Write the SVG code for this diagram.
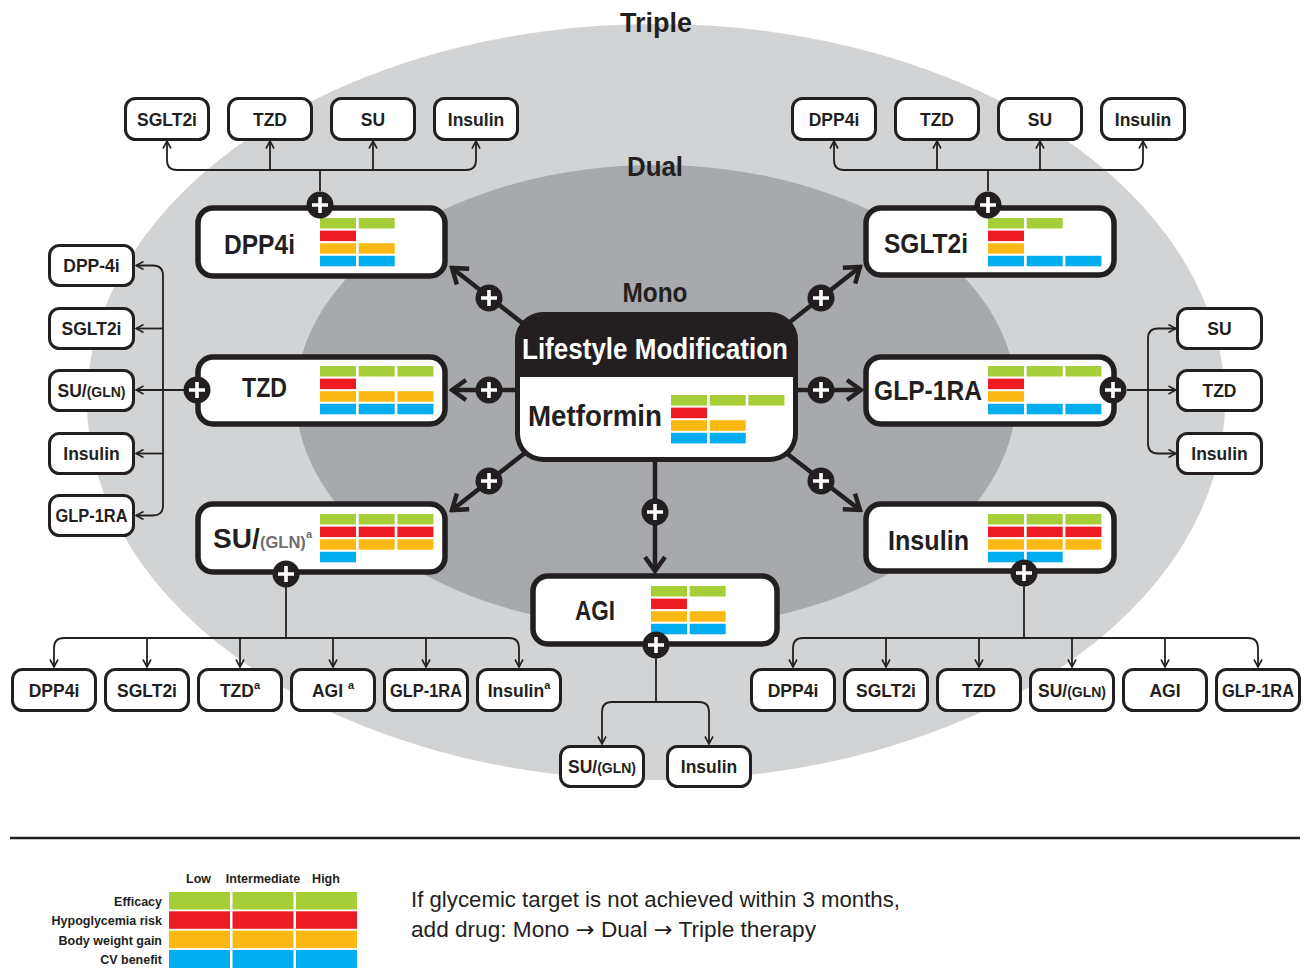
<svg xmlns="http://www.w3.org/2000/svg" width="1307" height="968" viewBox="0 0 1307 968">
<defs>
<style>
text{font-family:"Liberation Sans",Arial,sans-serif;font-weight:bold;fill:#231f20}
.big{font-size:28px}
.sm{font-size:17.5px;text-anchor:middle}
.sb{fill:#fff;stroke:#231f20;stroke-width:3}
.nb{fill:#fff;stroke:#231f20;stroke-width:5.5}
.G{fill:#a6ce39}.R{fill:#ed1c24}.O{fill:#fdb913}.B{fill:#00aeef}
.ln{fill:none;stroke:#231f20;stroke-width:1.8;marker-end:url(#sa)}
.bus{fill:none;stroke:#231f20;stroke-width:1.8}
.ar{fill:none;stroke:#231f20;stroke-width:4.5;marker-end:url(#ba)}
.lg{font-size:12.5px}
.sup{font-size:11px}
.ring{font-size:28px;text-anchor:middle}
.arw{font-family:"DejaVu Sans",sans-serif;font-weight:normal}
</style>
<marker id="sa" viewBox="0 0 10 10" markerUnits="userSpaceOnUse" markerWidth="10" markerHeight="10" refX="9" refY="5" orient="auto"><path d="M1.5,1 L9,5 L1.5,9" fill="none" stroke="#231f20" stroke-width="1.6"/></marker>
<marker id="ba" viewBox="0 0 20 24" markerUnits="userSpaceOnUse" markerWidth="20" markerHeight="24" refX="17" refY="12" orient="auto"><path d="M3,2 L17,12 L3,22" fill="none" stroke="#231f20" stroke-width="4.5"/></marker>
<g id="plus"><circle r="13.5" fill="#231f20"/><path d="M-8,0H8M0,-8V8" stroke="#fff" stroke-width="3.6"/></g>
</defs>

<rect width="1307" height="968" fill="#fff"/>
<g id="background">
<ellipse cx="656" cy="402" rx="569" ry="378" fill="#d1d3d4"/>
<ellipse cx="656" cy="397" rx="360" ry="232" fill="#a7a9ac"/>
<text class="ring" x="656" y="32" textLength="72" lengthAdjust="spacingAndGlyphs">Triple</text>
<text class="ring" x="655" y="176" textLength="56" lengthAdjust="spacingAndGlyphs">Dual</text>
<text class="ring" x="655" y="302" textLength="65" lengthAdjust="spacingAndGlyphs">Mono</text>
</g>

<g id="connectors">
<path class="ar" d="M530,329L452,268"/>
<path class="ar" d="M518,390H452"/>
<path class="ar" d="M530,449L452,510"/>
<path class="ar" d="M781,329L860,267"/>
<path class="ar" d="M793,390H861"/>
<path class="ar" d="M781,449L860,510"/>
<path class="ar" d="M655,462V571"/>

<path class="bus" d="M320,191V170"/>
<path class="ln" d="M320,170H177Q167,170 167,160V141"/>
<path class="ln" d="M320,170H466Q476,170 476,160V141"/>
<path class="ln" d="M270,170V141"/>
<path class="ln" d="M373,170V141"/>

<path class="bus" d="M988,191V170"/>
<path class="ln" d="M988,170H844Q834,170 834,160V141"/>
<path class="ln" d="M988,170H1133Q1143,170 1143,160V141"/>
<path class="ln" d="M937,170V141"/>
<path class="ln" d="M1040,170V141"/>

<path class="ln" d="M184,390H136"/>
<path class="ln" d="M163,390V275.5Q163,265.5 153,265.5H136"/>
<path class="ln" d="M163,390V505.5Q163,515.5 153,515.5H136"/>
<path class="ln" d="M163,328.5H136"/>
<path class="ln" d="M163,453.5H136"/>

<path class="ln" d="M1127,390H1176"/>
<path class="ln" d="M1148,390V338.5Q1148,328.5 1158,328.5H1176"/>
<path class="ln" d="M1148,390V443.5Q1148,453.5 1158,453.5H1176"/>

<path class="bus" d="M286,587V638"/>
<path class="ln" d="M286,638H64Q54,638 54,648V667"/>
<path class="ln" d="M286,638H509Q519,638 519,648V667"/>
<path class="ln" d="M147,638V667"/>
<path class="ln" d="M240,638V667"/>
<path class="ln" d="M333,638V667"/>
<path class="ln" d="M426,638V667"/>

<path class="bus" d="M1024,586V638"/>
<path class="ln" d="M1024,638H803Q793,638 793,648V667"/>
<path class="ln" d="M1024,638H1248Q1258,638 1258,648V667"/>
<path class="ln" d="M886,638V667"/>
<path class="ln" d="M979,638V667"/>
<path class="ln" d="M1072,638V667"/>
<path class="ln" d="M1165,638V667"/>

<path class="bus" d="M656,658V702"/>
<path class="ln" d="M656,702H612Q602,702 602,712V744"/>
<path class="ln" d="M656,702H699Q709,702 709,712V744"/>
</g>

<!-- Central node -->
<g id="node-metformin">
<rect x="515" y="312" width="283" height="150" rx="28" fill="#231f20"/>
<path d="M520,377H793V434A23,23 0 0 1 770,457H543A23,23 0 0 1 520,434Z" fill="#fff"/>
<text x="522" y="359" font-size="29" style="fill:#fff" textLength="266" lengthAdjust="spacingAndGlyphs">Lifestyle Modification</text>
<text x="528" y="426" font-size="30" textLength="134" lengthAdjust="spacingAndGlyphs">Metformin</text>
<g transform="translate(671,395)">
<rect class="G" x="0" y="0" width="36" height="10.6"/><rect class="G" x="38.7" y="0" width="36" height="10.6"/><rect class="G" x="77.4" y="0" width="36" height="10.6"/>
<rect class="R" x="0" y="12.6" width="36" height="10.6"/>
<rect class="O" x="0" y="25.2" width="36" height="10.6"/><rect class="O" x="38.7" y="25.2" width="36" height="10.6"/>
<rect class="B" x="0" y="37.8" width="36" height="10.6"/><rect class="B" x="38.7" y="37.8" width="36" height="10.6"/>
</g>
</g>

<!-- Dual nodes -->
<g id="node-dpp4i">
<rect class="nb" x="198" y="208" width="247" height="68" rx="15"/>
<text class="big" x="224" y="254" textLength="71" lengthAdjust="spacingAndGlyphs">DPP4i</text>
<g transform="translate(320,218)">
<rect class="G" x="0" y="0" width="36" height="10.5"/><rect class="G" x="38.7" y="0" width="36" height="10.5"/>
<rect class="R" x="0" y="12.6" width="36" height="10.5"/>
<rect class="O" x="0" y="25.2" width="36" height="10.5"/><rect class="O" x="38.7" y="25.2" width="36" height="10.5"/>
<rect class="B" x="0" y="37.8" width="36" height="10.5"/><rect class="B" x="38.7" y="37.8" width="36" height="10.5"/>
</g>
</g>

<g id="node-sglt2i">
<rect class="nb" x="866" y="208" width="248" height="67" rx="15"/>
<text class="big" x="884" y="253" textLength="84" lengthAdjust="spacingAndGlyphs">SGLT2i</text>
<g transform="translate(988,218)">
<rect class="G" x="0" y="0" width="36" height="10.5"/><rect class="G" x="38.7" y="0" width="36" height="10.5"/>
<rect class="R" x="0" y="12.6" width="36" height="10.5"/>
<rect class="O" x="0" y="25.2" width="36" height="10.5"/>
<rect class="B" x="0" y="37.8" width="36" height="10.5"/><rect class="B" x="38.7" y="37.8" width="36" height="10.5"/><rect class="B" x="77.4" y="37.8" width="36" height="10.5"/>
</g>
</g>

<g id="node-tzd">
<rect class="nb" x="198" y="357" width="247" height="67" rx="15"/>
<text class="big" x="242" y="397" textLength="45" lengthAdjust="spacingAndGlyphs">TZD</text>
<g transform="translate(320,366)">
<rect class="G" x="0" y="0" width="36" height="10.5"/><rect class="G" x="38.7" y="0" width="36" height="10.5"/><rect class="G" x="77.4" y="0" width="36" height="10.5"/>
<rect class="R" x="0" y="12.6" width="36" height="10.5"/>
<rect class="O" x="0" y="25.2" width="36" height="10.5"/><rect class="O" x="38.7" y="25.2" width="36" height="10.5"/><rect class="O" x="77.4" y="25.2" width="36" height="10.5"/>
<rect class="B" x="0" y="37.8" width="36" height="10.5"/><rect class="B" x="38.7" y="37.8" width="36" height="10.5"/><rect class="B" x="77.4" y="37.8" width="36" height="10.5"/>
</g>
</g>

<g id="node-glp1ra">
<rect class="nb" x="866" y="357" width="248" height="67" rx="15"/>
<text class="big" x="874" y="400" textLength="108" lengthAdjust="spacingAndGlyphs">GLP-1RA</text>
<g transform="translate(988,366)">
<rect class="G" x="0" y="0" width="36" height="10.5"/><rect class="G" x="38.7" y="0" width="36" height="10.5"/><rect class="G" x="77.4" y="0" width="36" height="10.5"/>
<rect class="R" x="0" y="12.6" width="36" height="10.5"/>
<rect class="O" x="0" y="25.2" width="36" height="10.5"/>
<rect class="B" x="0" y="37.8" width="36" height="10.5"/><rect class="B" x="38.7" y="37.8" width="36" height="10.5"/><rect class="B" x="77.4" y="37.8" width="36" height="10.5"/>
</g>
</g>

<g id="node-su">
<rect class="nb" x="198" y="504" width="247" height="68" rx="15"/>
<text y="548"><tspan x="213" font-size="28">SU/</tspan><tspan x="260" font-size="16.5" style="fill:#6d6e71">(GLN)</tspan><tspan x="306" dy="-10" font-size="11" style="fill:#6d6e71">a</tspan></text>
<g transform="translate(320,514)">
<rect class="G" x="0" y="0" width="36" height="10.5"/><rect class="G" x="38.7" y="0" width="36" height="10.5"/><rect class="G" x="77.4" y="0" width="36" height="10.5"/>
<rect class="R" x="0" y="12.6" width="36" height="10.5"/><rect class="R" x="38.7" y="12.6" width="36" height="10.5"/><rect class="R" x="77.4" y="12.6" width="36" height="10.5"/>
<rect class="O" x="0" y="25.2" width="36" height="10.5"/><rect class="O" x="38.7" y="25.2" width="36" height="10.5"/><rect class="O" x="77.4" y="25.2" width="36" height="10.5"/>
<rect class="B" x="0" y="37.8" width="36" height="10.5"/>
</g>
</g>

<g id="node-insulin">
<rect class="nb" x="866" y="504" width="248" height="67" rx="15"/>
<text class="big" x="888" y="550" textLength="81" lengthAdjust="spacingAndGlyphs">Insulin</text>
<g transform="translate(988,514)">
<rect class="G" x="0" y="0" width="36" height="10.5"/><rect class="G" x="38.7" y="0" width="36" height="10.5"/><rect class="G" x="77.4" y="0" width="36" height="10.5"/>
<rect class="R" x="0" y="12.6" width="36" height="10.5"/><rect class="R" x="38.7" y="12.6" width="36" height="10.5"/><rect class="R" x="77.4" y="12.6" width="36" height="10.5"/>
<rect class="O" x="0" y="25.2" width="36" height="10.5"/><rect class="O" x="38.7" y="25.2" width="36" height="10.5"/><rect class="O" x="77.4" y="25.2" width="36" height="10.5"/>
<rect class="B" x="0" y="37.8" width="36" height="10.5"/><rect class="B" x="38.7" y="37.8" width="36" height="10.5"/>
</g>
</g>

<g id="node-agi">
<rect class="nb" x="533" y="576" width="244" height="68" rx="15"/>
<text class="big" x="575" y="620" textLength="40" lengthAdjust="spacingAndGlyphs">AGI</text>
<g transform="translate(651,586)">
<rect class="G" x="0" y="0" width="36" height="10.5"/><rect class="G" x="38.7" y="0" width="36" height="10.5"/>
<rect class="R" x="0" y="12.6" width="36" height="10.5"/>
<rect class="O" x="0" y="25.2" width="36" height="10.5"/><rect class="O" x="38.7" y="25.2" width="36" height="10.5"/>
<rect class="B" x="0" y="37.8" width="36" height="10.5"/><rect class="B" x="38.7" y="37.8" width="36" height="10.5"/>
</g>
</g>

<!-- Triple option boxes: top-left (after DPP4i) -->
<g id="tl-sglt2i"><rect class="sb" x="125.5" y="98.5" width="83" height="41" rx="10"/><text class="sm" x="167" y="125.5">SGLT2i</text></g>
<g id="tl-tzd"><rect class="sb" x="228.5" y="98.5" width="83" height="41" rx="10"/><text class="sm" x="270" y="125.5">TZD</text></g>
<g id="tl-su"><rect class="sb" x="331.5" y="98.5" width="83" height="41" rx="10"/><text class="sm" x="373" y="125.5">SU</text></g>
<g id="tl-insulin"><rect class="sb" x="434.5" y="98.5" width="83" height="41" rx="10"/><text class="sm" x="476" y="125.5">Insulin</text></g>

<!-- top-right (after SGLT2i) -->
<g id="tr-dpp4i"><rect class="sb" x="792.5" y="98.5" width="83" height="41" rx="10"/><text class="sm" x="834" y="125.5">DPP4i</text></g>
<g id="tr-tzd"><rect class="sb" x="895.5" y="98.5" width="83" height="41" rx="10"/><text class="sm" x="937" y="125.5">TZD</text></g>
<g id="tr-su"><rect class="sb" x="998.5" y="98.5" width="83" height="41" rx="10"/><text class="sm" x="1040" y="125.5">SU</text></g>
<g id="tr-insulin"><rect class="sb" x="1101.5" y="98.5" width="83" height="41" rx="10"/><text class="sm" x="1143" y="125.5">Insulin</text></g>

<!-- left column (after TZD) -->
<g id="l-dpp4i"><rect class="sb" x="49.5" y="245.5" width="84" height="40" rx="10"/><text class="sm" x="91.5" y="272">DPP-4i</text></g>
<g id="l-sglt2i"><rect class="sb" x="49.5" y="308.5" width="84" height="40" rx="10"/><text class="sm" x="91.5" y="335">SGLT2i</text></g>
<g id="l-su"><rect class="sb" x="49.5" y="370.5" width="84" height="40" rx="10"/><text class="sm" x="91.5" y="397">SU/<tspan font-size="14">(GLN)</tspan></text></g>
<g id="l-insulin"><rect class="sb" x="49.5" y="433.5" width="84" height="40" rx="10"/><text class="sm" x="91.5" y="460">Insulin</text></g>
<g id="l-glp1ra"><rect class="sb" x="49.5" y="495.5" width="84" height="40" rx="10"/><text class="sm" x="91.5" y="522" textLength="72" lengthAdjust="spacingAndGlyphs">GLP-1RA</text></g>

<!-- right column (after GLP-1RA) -->
<g id="r-su"><rect class="sb" x="1177.5" y="308.5" width="84" height="40" rx="10"/><text class="sm" x="1219.5" y="335">SU</text></g>
<g id="r-tzd"><rect class="sb" x="1177.5" y="370.5" width="84" height="40" rx="10"/><text class="sm" x="1219.5" y="397">TZD</text></g>
<g id="r-insulin"><rect class="sb" x="1177.5" y="433.5" width="84" height="40" rx="10"/><text class="sm" x="1219.5" y="460">Insulin</text></g>

<!-- bottom-left (after SU) -->
<g id="bl-dpp4i"><rect class="sb" x="12.5" y="669.5" width="83" height="41" rx="10"/><text class="sm" x="54" y="696.5">DPP4i</text></g>
<g id="bl-sglt2i"><rect class="sb" x="105.5" y="669.5" width="83" height="41" rx="10"/><text class="sm" x="147" y="696.5">SGLT2i</text></g>
<g id="bl-tzd"><rect class="sb" x="198.5" y="669.5" width="83" height="41" rx="10"/><text class="sm" x="240" y="696.5">TZD<tspan class="sup" dy="-8">a</tspan></text></g>
<g id="bl-agi"><rect class="sb" x="291.5" y="669.5" width="83" height="41" rx="10"/><text class="sm" x="333" y="696.5">AGI <tspan class="sup" dy="-8">a</tspan></text></g>
<g id="bl-glp1ra"><rect class="sb" x="384.5" y="669.5" width="83" height="41" rx="10"/><text class="sm" x="426" y="696.5" textLength="72" lengthAdjust="spacingAndGlyphs">GLP-1RA</text></g>
<g id="bl-insulin"><rect class="sb" x="477.5" y="669.5" width="83" height="41" rx="10"/><text class="sm" x="519" y="696.5">Insulin<tspan class="sup" dy="-8">a</tspan></text></g>

<!-- bottom-right (after Insulin) -->
<g id="br-dpp4i"><rect class="sb" x="751.5" y="669.5" width="83" height="41" rx="10"/><text class="sm" x="793" y="696.5">DPP4i</text></g>
<g id="br-sglt2i"><rect class="sb" x="844.5" y="669.5" width="83" height="41" rx="10"/><text class="sm" x="886" y="696.5">SGLT2i</text></g>
<g id="br-tzd"><rect class="sb" x="937.5" y="669.5" width="83" height="41" rx="10"/><text class="sm" x="979" y="696.5">TZD</text></g>
<g id="br-su"><rect class="sb" x="1030.5" y="669.5" width="83" height="41" rx="10"/><text class="sm" x="1072" y="696.5">SU/<tspan font-size="14">(GLN)</tspan></text></g>
<g id="br-agi"><rect class="sb" x="1123.5" y="669.5" width="83" height="41" rx="10"/><text class="sm" x="1165" y="696.5">AGI</text></g>
<g id="br-glp1ra"><rect class="sb" x="1216.5" y="669.5" width="83" height="41" rx="10"/><text class="sm" x="1258" y="696.5" textLength="72" lengthAdjust="spacingAndGlyphs">GLP-1RA</text></g>

<!-- bottom center (after AGI) -->
<g id="bc-su"><rect class="sb" x="560.5" y="746.5" width="83" height="40" rx="10"/><text class="sm" x="602" y="773">SU/<tspan font-size="14">(GLN)</tspan></text></g>
<g id="bc-insulin"><rect class="sb" x="667.5" y="746.5" width="83" height="40" rx="10"/><text class="sm" x="709" y="773">Insulin</text></g>

<g id="plus-signs">
<use href="#plus" x="489" y="298"/>
<use href="#plus" x="489" y="390"/>
<use href="#plus" x="489" y="481"/>
<use href="#plus" x="821" y="298"/>
<use href="#plus" x="821" y="390"/>
<use href="#plus" x="821" y="481"/>
<use href="#plus" x="655" y="512"/>
<use href="#plus" x="320" y="205"/>
<use href="#plus" x="988" y="205"/>
<use href="#plus" x="197" y="390"/>
<use href="#plus" x="1113" y="390"/>
<use href="#plus" x="286" y="574"/>
<use href="#plus" x="1024" y="573"/>
<use href="#plus" x="656" y="645"/>
</g>

<line x1="10" y1="838" x2="1300" y2="838" stroke="#231f20" stroke-width="2.5"/>

<g id="legend">
<text class="lg" x="198.5" y="883" text-anchor="middle">Low</text>
<text class="lg" x="263" y="883" text-anchor="middle">Intermediate</text>
<text class="lg" x="326" y="883" text-anchor="middle">High</text>
<text class="lg" x="162" y="906" text-anchor="end">Efficacy</text>
<text class="lg" x="162" y="925" text-anchor="end">Hypoglycemia risk</text>
<text class="lg" x="162" y="944.5" text-anchor="end">Body weight gain</text>
<text class="lg" x="162" y="964" text-anchor="end">CV benefit</text>
<rect class="G" x="169" y="892" width="61" height="17.5"/><rect class="G" x="232.5" y="892" width="61" height="17.5"/><rect class="G" x="296" y="892" width="61" height="17.5"/>
<rect class="R" x="169" y="911.3" width="61" height="17.5"/><rect class="R" x="232.5" y="911.3" width="61" height="17.5"/><rect class="R" x="296" y="911.3" width="61" height="17.5"/>
<rect class="O" x="169" y="930.6" width="61" height="17.5"/><rect class="O" x="232.5" y="930.6" width="61" height="17.5"/><rect class="O" x="296" y="930.6" width="61" height="17.5"/>
<rect class="B" x="169" y="950" width="61" height="18"/><rect class="B" x="232.5" y="950" width="61" height="18"/><rect class="B" x="296" y="950" width="61" height="18"/>
<text x="411" y="907" font-size="22" style="font-weight:normal" textLength="489" lengthAdjust="spacingAndGlyphs">If glycemic target is not achieved within 3 months,</text>
<text x="411" y="937" font-size="22" style="font-weight:normal" textLength="405" lengthAdjust="spacingAndGlyphs">add drug: Mono <tspan class="arw">→</tspan> Dual <tspan class="arw">→</tspan> Triple therapy</text>
</g>
</svg>
